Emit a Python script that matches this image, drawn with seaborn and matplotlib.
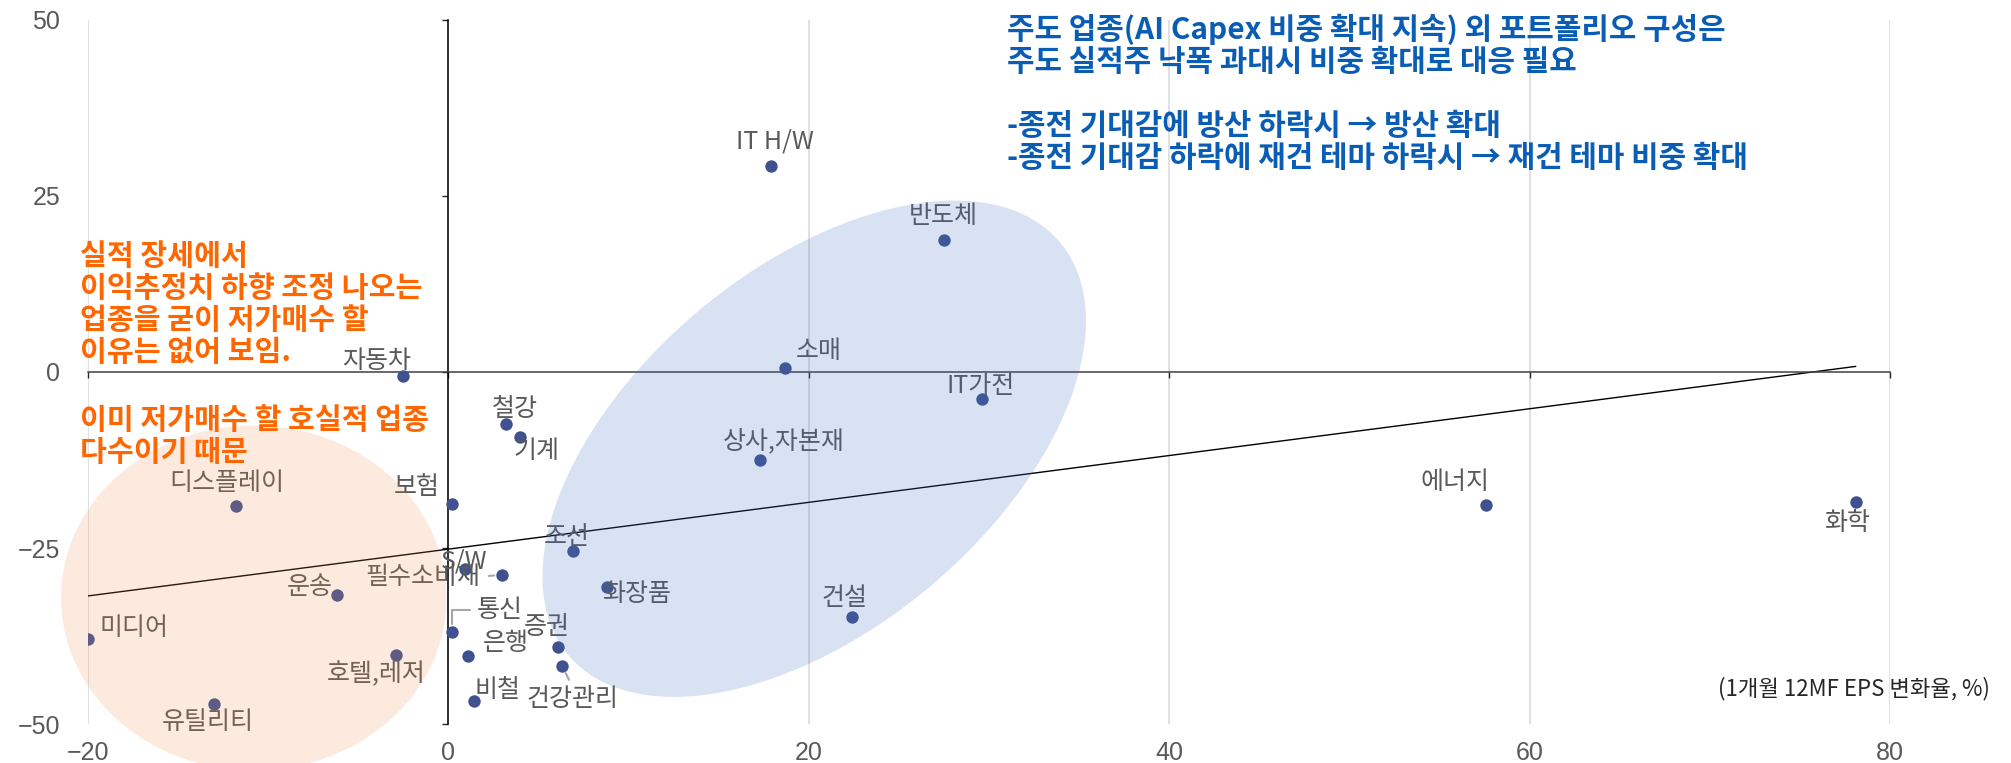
import numpy as np
import pandas as pd
import matplotlib
matplotlib.use('Agg')
import matplotlib.pyplot as plt
from matplotlib.patches import Ellipse
from matplotlib.transforms import Affine2D
import seaborn as sns

# sector scatter: x = price change (%), y = 1M 12MF EPS revision (%)
sectors = ['자동차', '보험', '철강', '기계', '조선', 'S/W', '필수소비재', '운송', '통신', '은행',
           '증권', '건강관리', '비철', '화장품', '호텔,레저', '디스플레이', '미디어', '유틸리티',
           'IT H/W', '반도체', '소매', 'IT가전', '상사,자본재', '건설', '에너지', '화학']
x_vals = [-2.5, 0.2, 3.2, 4.0, 6.9, 0.9, 3.0, -6.2, 0.2, 1.1,
          6.1, 6.3, 1.4, 8.8, -2.9, -11.8, -20.0, -13.0,
          17.9, 27.5, 18.7, 29.6, 17.3, 22.4, 57.6, 78.1]
y_vals = [-0.5, -18.8, -7.4, -9.3, -25.4, -28.0, -28.8, -31.7, -37.0, -40.3,
          -39.0, -41.7, -46.8, -30.6, -40.2, -19.1, -37.9, -47.2,
          29.3, 18.8, 0.6, -3.8, -12.5, -34.8, -18.9, -18.5]
x_ticks = [-20, 0, 20, 40, 60, 80]
y_ticks = [-50, -25, 0, 25, 50]

blue_note = ('주도 업종(AI Capex 비중 확대 지속) 외 포트폴리오 구성은\n'
             '주도 실적주 낙폭 과대시 비중 확대로 대응 필요\n\n'
             '-종전 기대감에 방산 하락시 → 방산 확대\n'
             '-종전 기대감 하락에 재건 테마 하락시 → 재건 테마 비중 확대')
orange_note1 = '실적 장세에서\n이익추정치 하향 조정 나오는\n업종을 굳이 저가매수 할\n이유는 없어 보임.'
orange_note2 = '이미 저가매수 할 호실적 업종\n다수이기 때문'
unit_note = '(1개월 12MF EPS 변화율, %)'

# label offsets in pixels (dx, dy) from each point
label_pos = {
    '자동차': (-27, 15), '보험': (-35, 17), '철강': (9, 15), '기계': (16, -14),
    '조선': (-6, 14), 'S/W': (0, 8), '필수소비재': (-80, -2), '운송': (-27, 8),
    '통신': (48, 22), '은행': (38, 13), '증권': (-12, 20), '건강관리': (10, -33),
    '비철': (24, 11), '화장품': (30, -7), '호텔,레저': (-20, -19), '디스플레이': (-9, 23),
    '미디어': (46, 11), '유틸리티': (-6, -18), 'IT H/W': (4, 24), '반도체': (-1, 24),
    '소매': (33, 17), 'IT가전': (-1, 13), '상사,자본재': (24, 18), '건설': (-8, 19),
    '에너지': (-31, 23), '화학': (-9, -21),
}

df = pd.DataFrame({'sector': sectors, 'x': x_vals, 'y': y_vals})

sns.set_theme(style='white')
plt.rcParams['font.family'] = ['Noto Sans CJK KR', 'DejaVu Sans']
plt.rcParams['axes.unicode_minus'] = True

W, H = 2011, 763
fig = plt.figure(figsize=(W / 100, H / 100), dpi=100)
rect = [88 / W, 39 / H, 1802 / W, 704 / H]

# axes for grid + tick labels at the outer edges
ax_lab = fig.add_axes(rect)
ax_lab.set_xlim(-20, 80)
ax_lab.set_ylim(-50, 50)
ax_lab.set_xticks(x_ticks)
ax_lab.set_yticks(y_ticks)
for s in ax_lab.spines.values():
    s.set_visible(False)
ax_lab.grid(axis='x', color='#D9D9D9', lw=1.1)
ax_lab.grid(axis='y', visible=False)
ax_lab.tick_params(length=0, labelsize=18, labelcolor='#595959')
ax_lab.tick_params(axis='y', pad=20)
ax_lab.tick_params(axis='x', pad=12)
for t in ax_lab.get_xticklabels() + ax_lab.get_yticklabels():
    t.set_fontfamily(['Liberation Sans', 'DejaVu Sans'])

# main axes with the axis lines crossing at zero
ax = fig.add_axes(rect, facecolor='none')
sns.regplot(data=df, x='x', y='y', ax=ax, scatter=False, ci=None, truncate=True,
            line_kws=dict(color='black', lw=1.0, zorder=2))
sns.scatterplot(data=df, x='x', y='y', ax=ax, color='#3F528F', s=80, linewidth=0, zorder=3)
ax.set_xlim(-20, 80)
ax.set_ylim(-50, 50)
ax.set_xticks(x_ticks)
ax.set_yticks(y_ticks)
ax.set_xlabel('')
ax.set_ylabel('')
ax.spines['left'].set_position(('data', 0))
ax.spines['bottom'].set_position(('data', 0))
ax.spines['top'].set_visible(False)
ax.spines['right'].set_visible(False)
ax.spines['left'].set_color('black')
ax.spines['bottom'].set_color('#404040')
ax.spines['left'].set_linewidth(1.1)
ax.spines['bottom'].set_linewidth(1.1)
ax.tick_params(labelleft=False, labelbottom=False, direction='out', length=4.5, width=1,
               colors='#262626', left=True, bottom=True)

# point labels
leaders = {
    '필수소비재': dict(relpos=(1, 0.5), shrinkA=4, shrinkB=6),
    '통신': dict(relpos=(0, 0.5), shrinkA=3, shrinkB=6,
               connectionstyle='angle,angleA=0,angleB=90,rad=0'),
    '건강관리': dict(relpos=(0.5, 1), shrinkA=2, shrinkB=6),
}
for name, xv, yv in zip(sectors, x_vals, y_vals):
    dx, dy = label_pos[name]
    kw = {}
    if name in leaders:
        kw['arrowprops'] = dict(arrowstyle='-', color='#A6A6A6', lw=1.5, **leaders[name])
    ax.annotate(name, (xv, yv), xytext=(dx, dy), textcoords='offset pixels',
                ha='center', va='center', fontsize=18, color='#595959', zorder=3, **kw)

# highlighted regions, drawn over the points with transparency
ax.add_patch(Ellipse((-10.8, -32.1), 21.4, 49, facecolor='#F48B4E', alpha=0.18,
                     edgecolor='none', zorder=4, clip_on=False))
p0 = ax.transData.transform((0, 0))
p1 = ax.transData.transform((1, 1))
kx, ky = p1[0] - p0[0], p1[1] - p0[1]
blue_tr = Affine2D().scale(1 / kx, 1 / ky).translate(20.3, -10.9) + ax.transData
ax.add_patch(Ellipse((0, 0), 642, 360, angle=40, facecolor='#4472C4', alpha=0.2,
                     edgecolor='none', zorder=4, transform=blue_tr))

# notes
fig.text(1007 / W, 1 - 14 / H, blue_note, ha='left', va='top', fontsize=21.5,
         fontweight='bold', color='#0A5DB4', linespacing=1.08)
fig.text(80 / W, 1 - 241 / H, orange_note1, ha='left', va='top', fontsize=21,
         fontweight='bold', color='#FF6600', linespacing=1.08)
fig.text(80 / W, 1 - 405 / H, orange_note2, ha='left', va='top', fontsize=21,
         fontweight='bold', color='#FF6600', linespacing=1.08)
fig.text(1990 / W, 1 - 689 / H, unit_note, ha='right', va='center', fontsize=16,
         color='#262626')

fig.savefig('out.png', dpi=100)
